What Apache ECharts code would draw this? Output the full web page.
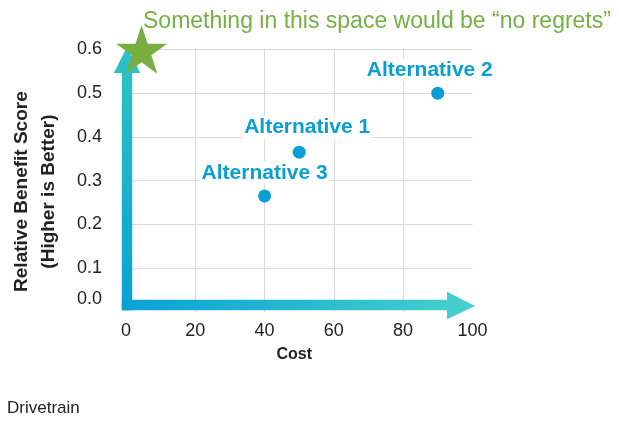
<!DOCTYPE html>
<html>
<head>
<meta charset="utf-8">
<script src="https://cdn.jsdelivr.net/npm/echarts@6/dist/echarts.min.js"></script>
<style>
html,body{margin:0;padding:0;background:#fff;}
#chart{width:619px;height:422px;}
</style>
</head>
<body>
<div id="chart"></div>
<script>
// ---- data ----
const categories = ['Alternative 1', 'Alternative 2', 'Alternative 3'];
const costValues = [50, 90, 40];
const benefitValues = [0.365, 0.5, 0.265];
const xTickValues = [0, 20, 40, 60, 80, 100];
const yTickLabels = ['0.0', '0.1', '0.2', '0.3', '0.4', '0.5', '0.6'];
const noRegretsPoint = [4.5, 0.6];
const titleText = 'Something in this space would be \u201cno regrets\u201d';
const xAxisTitle = 'Cost';
const yAxisTitle = 'Relative Benefit Score\n(Higher is Better)';
const footnote = 'Drivetrain';

// ---- styles (kept separate from data) ----
const FONT = "'Liberation Sans', Arial, sans-serif";
const BLUE = '#0A9FD4';
const GREEN = '#74B043';
const GRID = '#d9d9d9';
const NONE = 'rgba(0,0,0,0)';
const labelShift = [[8, -2], [-8, 0], [0, 0]];
const starPath = 'path://M100 0 L122.45 69.1 L195.1 69.1 L136.3 111.8 L158.8 180.9 L100 138.2 L41.2 180.9 L63.7 111.8 L4.9 69.1 L77.55 69.1 Z';

const chart = echarts.init(document.getElementById('chart'), null, {renderer: 'canvas'});

const points = costValues.map((c, i) => ({
  name: categories[i],
  value: [c, benefitValues[i]],
  label: {offset: labelShift[i]}
}));

const option = {
  backgroundColor: '#fff',
  animation: false,
  title: [
    {text: titleText, left: 143, top: 10, padding: 0,
     textStyle: {fontFamily: FONT, fontSize: 23, fontWeight: 'normal', color: GREEN}},
    {text: footnote, left: 7, top: 400, padding: 0,
     textStyle: {fontFamily: FONT, fontSize: 17, fontWeight: 'normal', color: '#222'}}
  ],
  grid: {left: 125.7, right: 146.6, top: 49.5, bottom: 110.3, containLabel: false},
  xAxis: {
    type: 'value', min: 0, max: 100, interval: 20,
    name: xAxisTitle, nameLocation: 'middle', nameGap: 35,
    nameTextStyle: {fontFamily: FONT, fontSize: 16, fontWeight: 'bold', color: '#222', padding: [0, 10, 0, 0]},
    axisLine: {show: false}, axisTick: {show: false},
    axisLabel: {fontFamily: FONT, fontSize: 18, color: '#222', margin: 10,
      formatter: v => xTickValues.indexOf(v) >= 0 ? String(v) : ''},
    splitLine: {show: true, lineStyle: {width: 1,
      color: [NONE, GRID, GRID, GRID, GRID, NONE]}}
  },
  yAxis: {
    type: 'value', min: 0, max: 0.6, interval: 0.1,
    name: yAxisTitle, nameLocation: 'middle', nameGap: 64, nameRotate: 90,
    nameTextStyle: {fontFamily: FONT, fontSize: 19, fontWeight: 'bold', color: '#222',
      lineHeight: 27, padding: [0, 22, 0, 0]},
    axisLine: {show: false}, axisTick: {show: false},
    axisLabel: {fontFamily: FONT, fontSize: 18, color: '#222', margin: 24,
      formatter: v => {
        const idx = Math.round(v * 10);
        const t = yTickLabels[idx];
        return idx === 0 ? '{low|' + t + '}' : t;
      },
      rich: {low: {fontFamily: FONT, fontSize: 18, color: '#222', padding: [0, 0, 26, 0]}}
    },
    splitLine: {show: true, lineStyle: {width: 1,
      color: [NONE, GRID, GRID, GRID, GRID, GRID, GRID]}}
  },
  series: [
    {
      type: 'scatter', name: 'alternatives', z: 4,
      symbol: 'circle', symbolSize: 13,
      itemStyle: {color: BLUE, opacity: 1},
      label: {show: true, position: 'top', distance: 5,
        formatter: p => p.name,
        fontFamily: FONT, fontSize: 21, fontWeight: 'bold', color: BLUE,
        backgroundColor: '#fff', padding: [1, 2]},
      emphasis: {disabled: true},
      data: points
    },
    {
      type: 'scatter', name: 'noRegrets', z: 5, clip: false,
      symbol: starPath, symbolSize: [51, 48.5],
      itemStyle: {color: '#78AE3F', opacity: 1},
      silent: true,
      emphasis: {disabled: true},
      data: [noRegretsPoint]
    }
  ]
};
chart.setOption(option);

// ---- decorative gradient arrows anchored to axes ----
const origin = chart.convertToPixel({gridIndex: 0}, [0, 0]);
const far = chart.convertToPixel({gridIndex: 0}, [100, 0.6]);
const vx = origin[0] + 1;       // vertical arrow centre line
const hy = origin[1] - 6.7;     // horizontal arrow centre line
const sw = 5.2;                 // half shaft width
const hw = 13.2;                // half head width
const headLen = 26;
const vTip = far[1] - 2.5;
const hTip = far[0] + 2.6;
const vBottom = hy + sw;
const hLeft = vx - sw;

const CORNER = '#08A2D4';
chart.setOption({
  graphic: [
    {
      type: 'polygon', z: 1, silent: true,
      shape: {points: [
        [vx - sw, vBottom], [vx - sw, vTip + headLen], [vx - hw, vTip + headLen],
        [vx, vTip], [vx + hw, vTip + headLen], [vx + sw, vTip + headLen], [vx + sw, vBottom]
      ]},
      style: {fill: new echarts.graphic.LinearGradient(0, 1, 0, 0, [
        {offset: 0, color: CORNER}, {offset: 1, color: '#2EC3C6'}])}
    },
    {
      type: 'polygon', z: 1, silent: true,
      shape: {points: [
        [hLeft, hy - sw], [hTip - headLen - 2, hy - sw], [hTip - headLen - 2, hy - hw],
        [hTip, hy + 1], [hTip - headLen - 2, hy + hw + 1], [hTip - headLen - 2, hy + sw], [hLeft, hy + sw]
      ]},
      style: {fill: new echarts.graphic.LinearGradient(0, 0, 1, 0, [
        {offset: 0, color: CORNER}, {offset: 1, color: '#48D0CD'}])}
    }
  ]
});
</script>
</body>
</html>
